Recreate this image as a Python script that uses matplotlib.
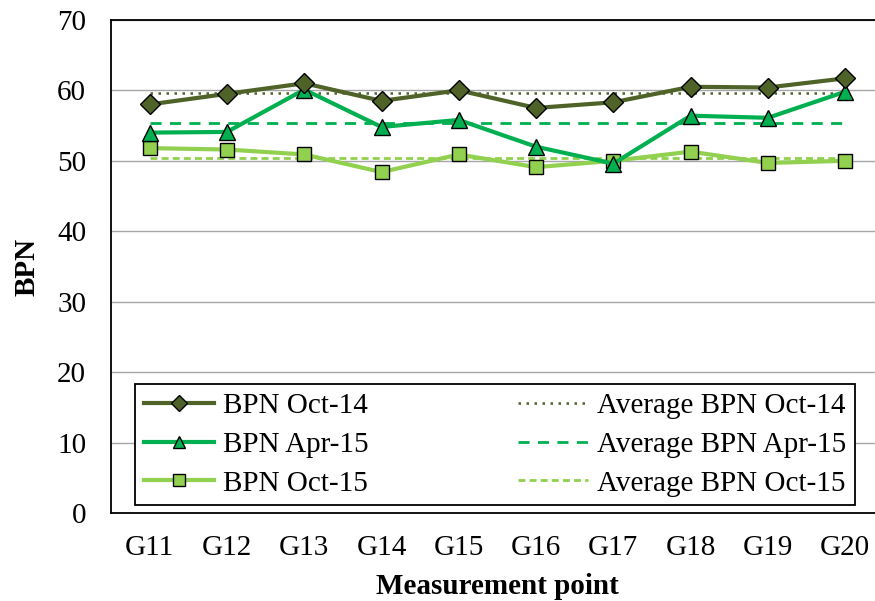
import matplotlib
matplotlib.use("Agg")
import matplotlib.pyplot as plt

plt.rcParams['font.family'] = ['Liberation Serif', 'DejaVu Serif']

points = ["G11", "G12", "G13", "G14", "G15", "G16", "G17", "G18", "G19", "G20"]
bpn_oct14 = [58.0, 59.5, 61.0, 58.5, 60.0, 57.5, 58.3, 60.5, 60.4, 61.7]
bpn_apr15 = [54.0, 54.1, 60.1, 54.8, 55.8, 52.0, 49.6, 56.4, 56.1, 59.8]
bpn_oct15 = [51.8, 51.6, 50.9, 48.4, 50.9, 49.1, 50.0, 51.3, 49.7, 50.0]
avg_oct14 = 59.6
avg_apr15 = 55.3
avg_oct15 = 50.4

c14 = "#4F6228"
ca15 = "#00B050"
co15 = "#92D050"

fig = plt.figure(figsize=(8.75, 6.01), dpi=100)
ax = fig.add_axes([0.127, 0.146, 0.883, 0.821])

x = list(range(len(points)))

l1, = ax.plot(x, bpn_oct14, color=c14, lw=3, marker="D", ms=10,
              mfc=c14, mec="black", mew=1, label="BPN Oct-14", zorder=5)
l2, = ax.plot(x, bpn_apr15, color=ca15, lw=3, marker="^", ms=11,
              mfc=ca15, mec="black", mew=1, label="BPN Apr-15", zorder=4)
l3, = ax.plot(x, bpn_oct15, color=co15, lw=3, marker="s", ms=10,
              mfc=co15, mec="black", mew=1, label="BPN Oct-15", zorder=3)

a1, = ax.plot(x, [avg_oct14] * len(x), color=c14, lw=1.8, ls=(0, (1, 2.2)),
              label="Average BPN Oct-14", zorder=2)
a2, = ax.plot(x, [avg_apr15] * len(x), color=ca15, lw=2, ls=(0, (4, 3)),
              label="Average BPN Apr-15", zorder=2)
a3, = ax.plot(x, [avg_oct15] * len(x), color=co15, lw=2, ls=(0, (2.5, 1.5)),
              label="Average BPN Oct-15", zorder=2)

ax.set_xlim(-0.5, len(points) - 0.5)
ax.set_ylim(0, 70)
ax.set_yticks(range(0, 71, 10))
ax.set_xticks(x)
ax.set_xticklabels(points)
ax.tick_params(axis="both", length=0, labelsize=21)
ax.tick_params(axis="x", pad=16)
ax.tick_params(axis="y", pad=18)
ax.yaxis.grid(True, color="#A6A6A6", lw=1)
ax.set_axisbelow(True)
for s in ax.spines.values():
    s.set_color("black")
    s.set_linewidth(1.3)

ax.set_xlabel("Measurement point", fontsize=21, fontweight="bold", labelpad=8)
ax.set_ylabel("BPN", fontsize=21, fontweight="bold", labelpad=12)

leg = ax.legend(handles=[l1, l2, l3, a1, a2, a3], ncol=2, loc="lower left",
                bbox_to_anchor=(0.031, 0.016, 0.932, 0.24), mode="expand",
                borderaxespad=0, fontsize=21, frameon=True, fancybox=False,
                framealpha=1, edgecolor="black", handlelength=2.4,
                handletextpad=0.3, labelspacing=0.42, borderpad=0.3,
                columnspacing=1.0, markerscale=0.85)
leg.get_frame().set_linewidth(1.3)

fig.savefig("out.png", dpi=100)
